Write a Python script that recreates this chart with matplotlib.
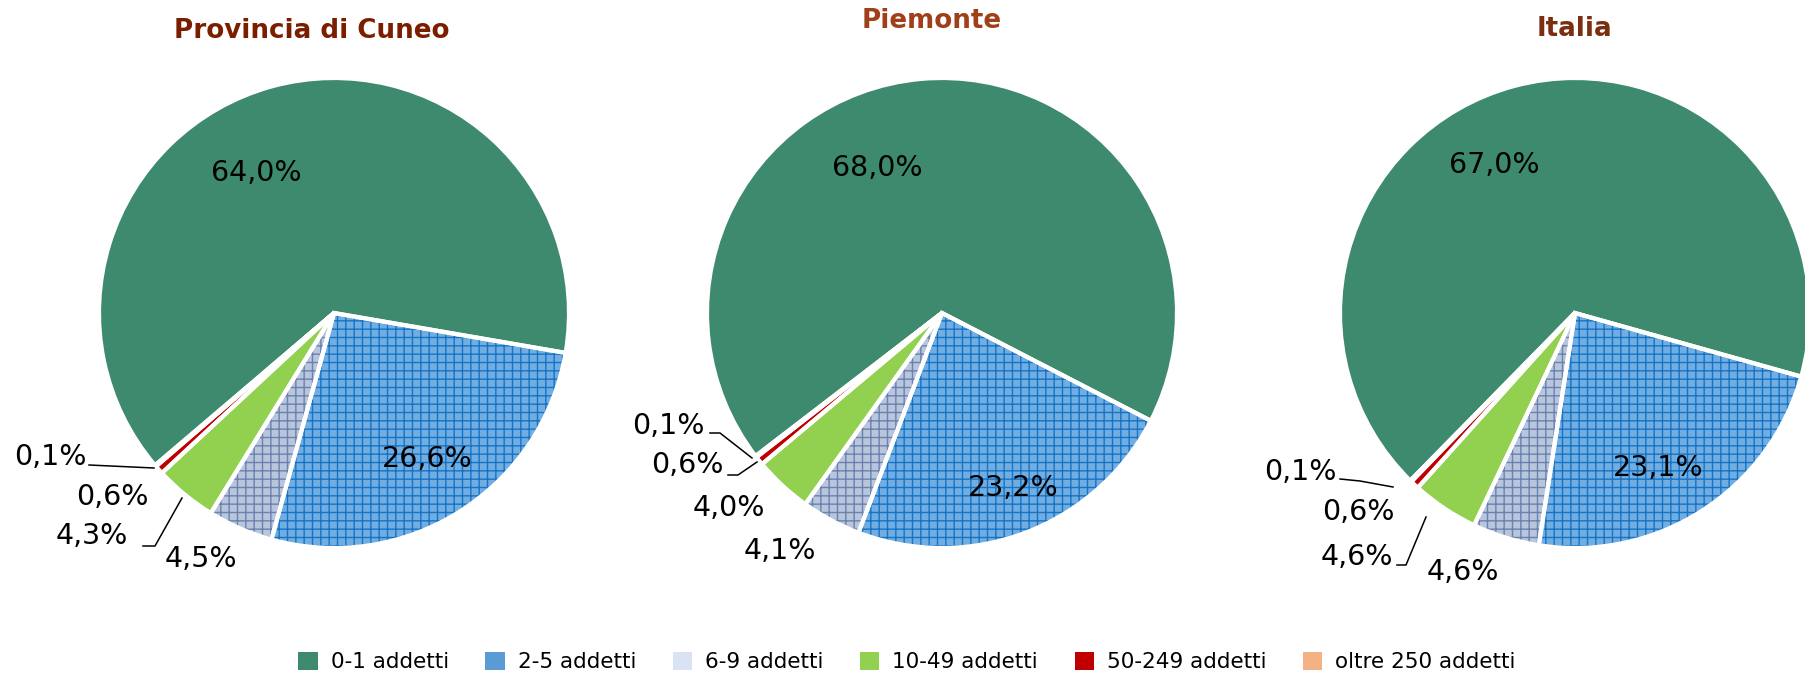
import matplotlib.pyplot as plt
from matplotlib.patches import Patch

plt.rcParams['font.family'] = ['DejaVu Sans']
plt.rcParams['hatch.linewidth'] = 1.0

# data
categories = ['0-1 addetti', '2-5 addetti', '6-9 addetti', '10-49 addetti',
              '50-249 addetti', 'oltre 250 addetti']
titles = ['Provincia di Cuneo', 'Piemonte', 'Italia']
cuneo = [64.0, 26.6, 4.5, 4.3, 0.6, 0.1]
piemonte = [68.0, 23.2, 4.1, 4.0, 0.6, 0.1]
italia = [67.0, 23.1, 4.6, 4.6, 0.6, 0.1]
series = [cuneo, piemonte, italia]

# styles
legend_colors = ['#3e8a6e', '#5b9bd5', '#dae3f3', '#92d050', '#c00000', '#f4b183']
pie_colors = ['#3e8a6e', '#72ade2', '#b8c5dc', '#92d050', '#c00000', '#9dc3e6']
hatches = [None, '++', '++', None, None, None]
hatch_colors = ['#3e8a6e', '#1474c6', '#6a82ae', '#92d050', '#c00000', '#9dc3e6']
title_colors = ['#7b1e00', '#a0401a', '#7a2e12']

# layout (pixel coords, y from top)
W, H = 1805, 676
centers = [(334, 313), (942, 313), (1575, 313)]
radius = 235
start_angles = [220.4, 217.5, 225.5]
title_pos = [(312, 31), (932, 21), (1574, 29)]
label_pos = [
    [(256, 173), (427, 459), (201, 559), (92, 536), (112, 497), (50, 457)],
    [(877, 168), (1013, 488), (780, 551), (729, 508), (687, 465), (668, 426)],
    [(1494, 165), (1658, 468), (1463, 572), (1357, 557), (1358, 512), (1300, 472)],
]
leaders = [
    [[(89, 465), (154, 468)], [(143, 546), (155, 546), (182, 498)]],
    [[(710, 433), (720, 433), (752, 458)], [(728, 475), (738, 475), (757, 462)]],
    [[(1340, 479), (1360, 481), (1393, 487)], [(1397, 565), (1406, 565), (1426, 517)]],
]

fig = plt.figure(figsize=(W / 100, H / 100), dpi=100)
ax = fig.add_axes([0, 0, 1, 1])

for k, vals in enumerate(series):
    cx, cy = centers[k]
    c = (cx, H - cy)
    wedges, _ = ax.pie(vals, colors=pie_colors, startangle=start_angles[k],
                       counterclock=False, center=c, radius=radius,
                       wedgeprops=dict(linewidth=0), frame=True)
    for w, h, hc in zip(wedges, hatches, hatch_colors):
        if h:
            w.set_hatch(h)
            w.set_edgecolor(hc)
    # white separators on top
    ax.pie(vals, colors=['none'] * len(vals), startangle=start_angles[k],
           counterclock=False, center=c, radius=radius,
           wedgeprops=dict(linewidth=3, edgecolor='white'), frame=True)

    for v, (lx, ly) in zip(vals, label_pos[k]):
        ax.text(lx, H - ly, f'{v:.1f}%'.replace('.', ','), fontsize=20.5,
                ha='center', va='center', color='black')
    for line in leaders[k]:
        ax.plot([p[0] for p in line], [H - p[1] for p in line],
                color='black', lw=1.1)

    tx, ty = title_pos[k]
    ax.text(tx, H - ty, titles[k], fontsize=18.8, fontweight='bold',
            color=title_colors[k], ha='center', va='center')

ax.set_xlim(0, W)
ax.set_ylim(0, H)
ax.set_aspect('equal')
ax.axis('off')

handles = [Patch(facecolor=col, edgecolor='none') for col in legend_colors]
fig.legend(handles, categories, loc='center', bbox_to_anchor=(907 / W, 1 - 662 / H),
           ncol=6, frameon=False, fontsize=15.5, handlelength=0.9, handleheight=0.9,
           handletextpad=0.6, columnspacing=1.7)

fig.savefig('out.png', dpi=100)
